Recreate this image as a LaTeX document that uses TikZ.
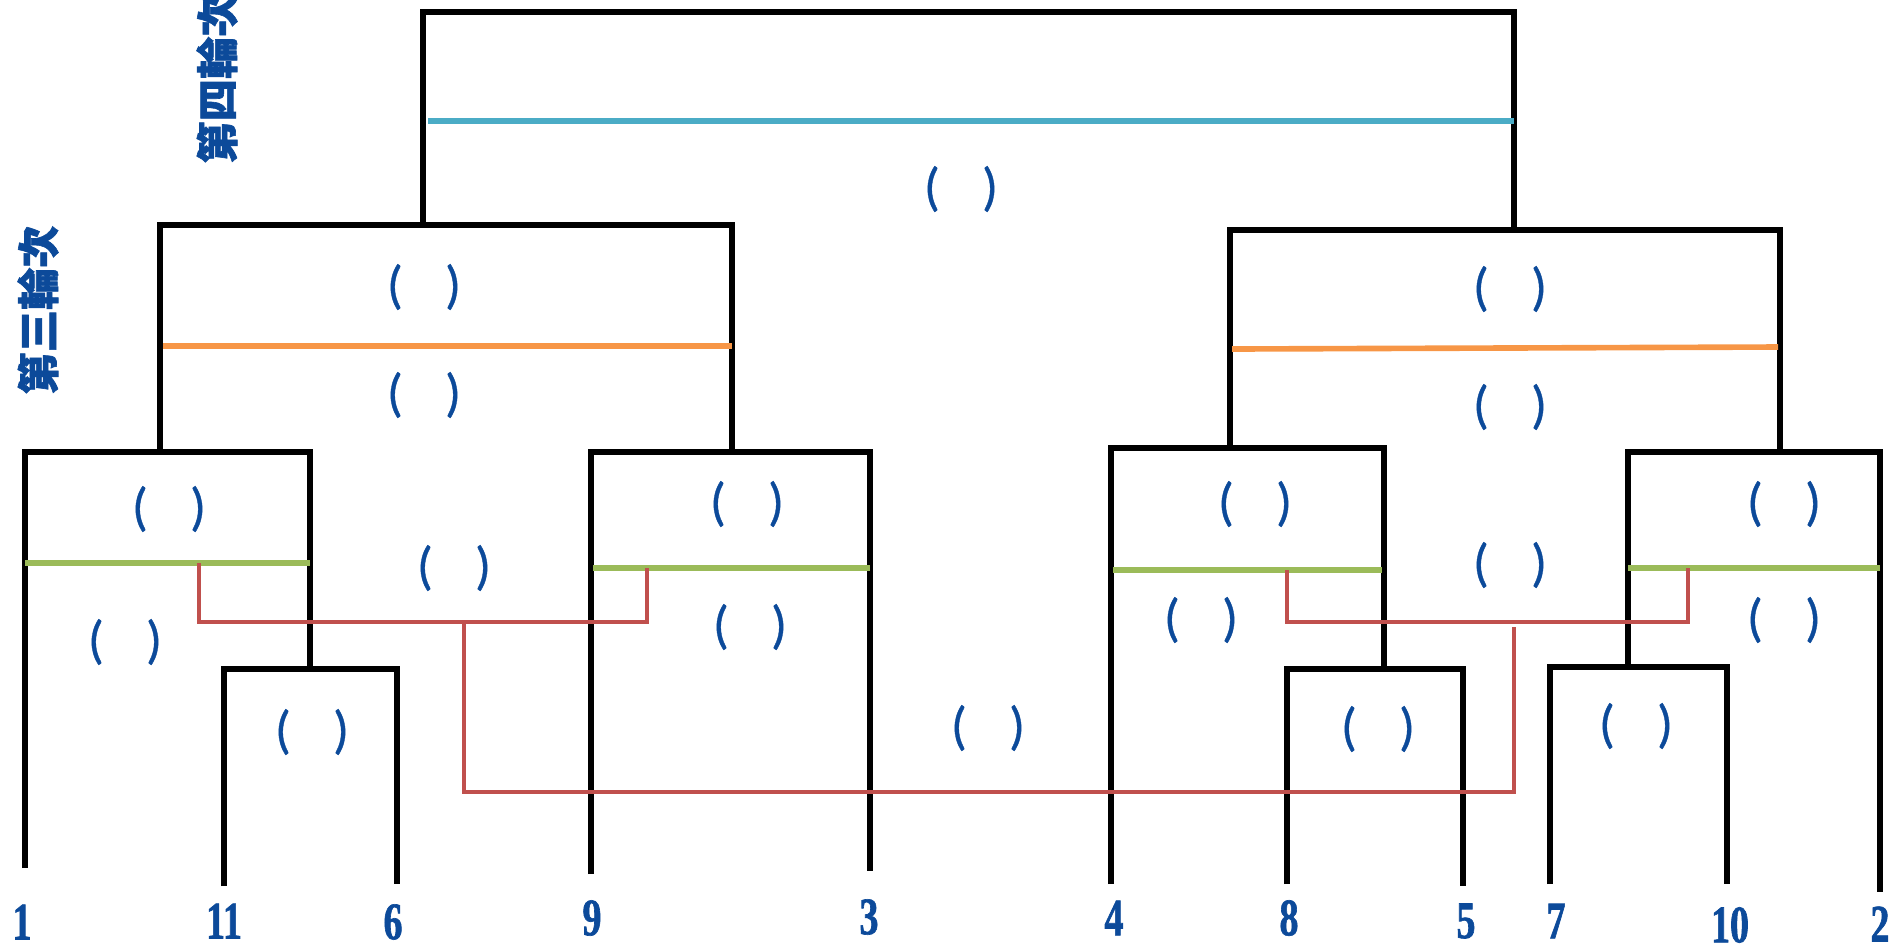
\documentclass[tikz,border=0pt]{standalone}
\usepackage{fontspec}
\usepackage{xcolor}
\usetikzlibrary{positioning}
\newfontfamily\cjk[FakeBold=1.5]{Noto Sans CJK TC}
\newfontfamily\numfont[FakeStretch=0.72,FakeBold=1.2]{Liberation Serif}
\newfontfamily\parenfont[FakeBold=0.6]{Carlito}
\definecolor{labelblue}{RGB}{12,74,154}
\definecolor{roundfour}{RGB}{75,172,198}
\definecolor{roundthree}{RGB}{247,150,70}
\definecolor{roundtwo}{RGB}{155,187,89}
\definecolor{roundone}{RGB}{192,80,77}
\tikzset{
  bracket/.style={draw=black, line width=1.45pt, line join=miter},
  divider/.style={line width=1.6pt},
  link/.style={draw=roundone, line width=1.3pt, line join=miter},
  blank/.style={text=labelblue, font=\parenfont\fontsize{15}{15}\selectfont, inner sep=0pt},
  leaf/.style={text=labelblue, font=\numfont\bfseries\fontsize{15}{15}\selectfont, inner sep=0pt},
  roundlabel/.style={rotate=90, text=labelblue, font=\cjk\bfseries\fontsize{12}{12}\selectfont, inner sep=0pt}
}
\newcommand{\pairblank}{(\hspace{12pt})}

\begin{document}
\begin{tikzpicture}[x=0.01cm, y=-0.01cm]
\useasboundingbox (0,0) rectangle (1890,950);

% round labels
\node[roundlabel] (r4) at (217,79) {第四輪次};
\node[roundlabel] (r3) at (38,310) {第三輪次};

% round 4
\draw[bracket] (423,225) |- (1514,12) -- (1514,230);
\draw[divider, roundfour] (428,121) -- (1514,121);

% round 3
\draw[bracket] (160,452) |- (732,225) -- (732,452);
\draw[divider, roundthree] (163,346) -- (732,346);
\draw[bracket] (1230,448) |- (1780,230) -- (1780,452);
\draw[divider, roundthree] (1232,349) -- (1778,347);

% round 2
\draw[bracket] (25,868) |- (310,452) -- (310,669);
\draw[divider, roundtwo] (25,563) -- (310,563);
\draw[bracket] (591,874) |- (870,452) -- (870,871);
\draw[divider, roundtwo] (593,568) -- (870,568);
\draw[bracket] (1111,884) |- (1384,448) -- (1384,669);
\draw[divider, roundtwo] (1113,570) -- (1382,570);
\draw[bracket] (1628,667) |- (1880,452) -- (1880,892);
\draw[divider, roundtwo] (1628,568) -- (1880,568);

% round 1
\draw[bracket] (224,886) |- (397,669) -- (397,884);
\draw[bracket] (1287,884) |- (1463,669) -- (1463,886);
\draw[bracket] (1550,884) |- (1727,667) -- (1727,884);

% links between the groups
\draw[link] (199,563) |- (647,622) -- (647,568);
\draw[link] (464,622) |- (1514,792) -- (1514,627);
\draw[link] (1287,570) |- (1688,622) -- (1688,568);

% blanks
\node[blank] (b1) at (961,189) {\pairblank};
\node[blank] (b2) at (424,287) {\pairblank};
\node[blank] (b3) at (424,395) {\pairblank};
\node[blank] (b4) at (1510,289) {\pairblank};
\node[blank] (b5) at (1510,407) {\pairblank};
\node[blank] (b6) at (169,509) {\pairblank};
\node[blank] (b7) at (125,642) {\pairblank};
\node[blank] (b8) at (747,504) {\pairblank};
\node[blank] (b9) at (750,627) {\pairblank};
\node[blank] (b10) at (1255,504) {\pairblank};
\node[blank] (b11) at (1201,620) {\pairblank};
\node[blank] (b12) at (1784,504) {\pairblank};
\node[blank] (b13) at (1784,620) {\pairblank};
\node[blank] (b14) at (312,732) {\pairblank};
\node[blank] (b15) at (1378,729) {\pairblank};
\node[blank] (b16) at (1636,726) {\pairblank};
\node[blank] (b17) at (454,568) {\pairblank};
\node[blank] (b18) at (1510,565) {\pairblank};
\node[blank] (b19) at (988,728) {\pairblank};

% leaves
\node[leaf] (n1) at (22,922) {1};
\node[leaf] (n11) at (224,921) {11};
\node[leaf] (n6) at (393,922) {6};
\node[leaf] (n9) at (592,918) {9};
\node[leaf] (n3) at (869,917) {3};
\node[leaf] (n4) at (1114,918) {4};
\node[leaf] (n8) at (1289,918) {8};
\node[leaf] (n5) at (1466,921) {5};
\node[leaf] (n7) at (1556,921) {7};
\node[leaf] (n10) at (1730,925) {10};
\node[leaf] (n2) at (1880,924) {2};
\end{tikzpicture}
\end{document}
